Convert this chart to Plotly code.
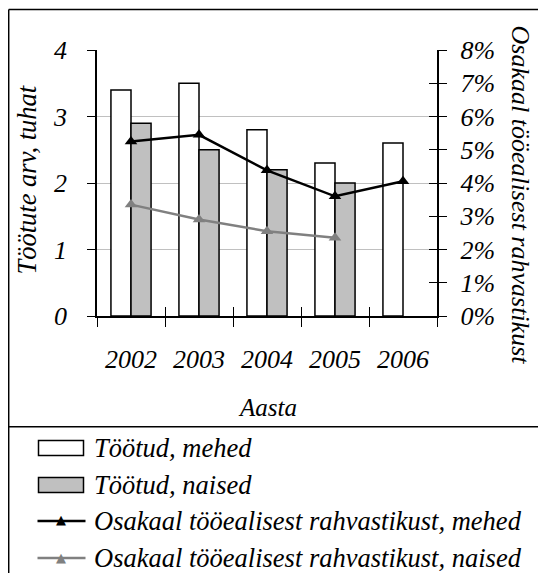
import plotly.graph_objects as go

years = ["2002", "2003", "2004", "2005", "2006"]
men_unemployed = [3.4, 3.5, 2.8, 2.3, 2.6]
women_unemployed = [2.9, 2.5, 2.2, 2.0, None]
men_share = [0.0525, 0.0545, 0.0438, 0.0360, 0.0405]
women_share = [0.0335, 0.0290, 0.0255, 0.0235]
left_ticks = [0, 1, 2, 3, 4]
right_ticks = [0, 0.01, 0.02, 0.03, 0.04, 0.05, 0.06, 0.07, 0.08]
legend_labels = ["Töötud, mehed", "Töötud, naised",
                 "Osakaal tööealisest rahvastikust, mehed",
                 "Osakaal tööealisest rahvastikust, naised"]

SERIF = "Liberation Serif"


def f(size):
    return dict(family=SERIF, size=size, style="italic", color="black")


# the page body has an 8px margin, so the figure starts at screen (8, 8)
OFF = 8
W, H = 546, 573
# plot area in screen pixels
SL, SR, ST, SB = 97, 437, 50, 316
L, R, T, B = SL - OFF, SR - OFF, ST - OFF, SB - OFF


def px(x):
    return (x - SL) / (SR - SL)


def py(y):
    return (SB - y) / (SB - ST)


fig = go.Figure()
fig.add_trace(go.Bar(x=years, y=men_unemployed, name=legend_labels[0],
                     marker=dict(color="white", line=dict(color="black", width=1.5))))
fig.add_trace(go.Bar(x=years, y=women_unemployed, name=legend_labels[1],
                     marker=dict(color="#c0c0c0", line=dict(color="black", width=1.5))))
fig.add_trace(go.Scatter(x=years, y=men_share, yaxis="y2", mode="lines+markers",
                         name=legend_labels[2],
                         line=dict(color="black", width=2.5),
                         marker=dict(symbol="triangle-up", size=11, color="black")))
fig.add_trace(go.Scatter(x=years[:4], y=women_share, yaxis="y2", mode="lines+markers",
                         name=legend_labels[3],
                         line=dict(color="#808080", width=2.5),
                         marker=dict(symbol="triangle-up", size=11, color="#808080")))
# empty helper trace so the overlay axes (inner halves of crossing ticks) get drawn
fig.add_trace(go.Scatter(x=[], y=[], xaxis="x2", yaxis="y3", showlegend=False, hoverinfo="skip"))

shapes = [
    dict(type="line", x0=px(8.7), x1=px(600), y0=py(9.5), y1=py(9.5)),
    dict(type="line", x0=px(8.7), x1=px(8.7), y0=py(9.5), y1=py(600)),
    dict(type="line", x0=px(8.7), x1=px(600), y0=py(426.7), y1=py(426.7)),
    # legend symbols
    dict(type="rect", x0=px(38.5), x1=px(83.5), y0=py(440.5), y1=py(455.5), fillcolor="white"),
    dict(type="rect", x0=px(38.5), x1=px(83.5), y0=py(477.5), y1=py(492.5), fillcolor="#c0c0c0"),
    dict(type="line", x0=px(37.5), x1=px(85.5), y0=py(521), y1=py(521), line=dict(color="black", width=2.5)),
    dict(type="line", x0=px(37.5), x1=px(85.5), y0=py(558), y1=py(558), line=dict(color="#808080", width=2.5)),
]
for s in shapes:
    s.update(xref="paper", yref="paper", layer="above")
    s.setdefault("line", dict(color="black", width=1.5))

annotations = [
    dict(text="Töötute arv, tuhat", textangle=-90, x=px(26.5), y=py(180), font=f(26.5)),
    dict(text="Osakaal tööealisest rahvastikust", textangle=90, x=px(520.5), y=py(195), font=f(26)),
    dict(text="Aasta", x=px(267), y=py(408), font=f(25)),
    dict(text="▲", x=px(61), y=py(520), font=dict(size=13, family="DejaVu Sans", color="black")),
    dict(text="▲", x=px(61), y=py(557), font=dict(size=13, family="DejaVu Sans", color="#808080")),
]
for lab, yy in zip(legend_labels, [448, 484.5, 521, 557.5]):
    annotations.append(dict(text=lab, x=px(92), y=py(yy), xanchor="left", font=f(26.5)))
for a in annotations:
    a.update(xref="paper", yref="paper", showarrow=False)
    a.setdefault("xanchor", "center")
    a.setdefault("yanchor", "middle")

fig.update_layout(
    width=W, height=H,
    margin=dict(l=L, r=W - R, t=T, b=H - B),
    paper_bgcolor="white", plot_bgcolor="white",
    font=dict(color="black"),
    showlegend=False,
    barmode="group", bargap=0.41, bargroupgap=0,
    xaxis=dict(type="category", categoryorder="array", categoryarray=years,
               tickson="boundaries", ticks="outside", ticklen=9, tickcolor="black",
               tickwidth=1, showline=True, linecolor="black", linewidth=1.5,
               showgrid=False, tickfont=f(26), ticklabelstandoff=19,
               automargin=False),
    xaxis2=dict(type="category", categoryorder="array", categoryarray=years,
                overlaying="x", anchor="y", matches="x", tickson="boundaries",
                ticks="inside", ticklen=9, tickcolor="black", tickwidth=1,
                showticklabels=False, showgrid=False, showline=False, zeroline=False,
                automargin=False),
    yaxis=dict(range=[0, 4], tickvals=left_ticks, ticks="outside", ticklen=8,
               tickcolor="black", showline=True, linecolor="black", linewidth=1.5,
               showgrid=True, gridcolor="#c0c0c0", gridwidth=1, zeroline=False,
               tickfont=f(26), ticklabelstandoff=15, automargin=False),
    yaxis2=dict(range=[0, 0.08], tickvals=right_ticks, tickformat=".0%",
                overlaying="y", side="right", anchor="x", ticks="outside", ticklen=8.5,
                tickcolor="black", showline=True, linecolor="black", linewidth=1.5,
                showgrid=False, zeroline=False, tickfont=f(26),
                ticklabelstandoff=8, automargin=False),
    yaxis3=dict(range=[0, 0.08], tickvals=right_ticks, overlaying="y", side="right",
                anchor="x", ticks="inside", ticklen=8.5, tickcolor="black",
                showticklabels=False, showgrid=False, showline=False, zeroline=False,
                automargin=False),
    annotations=annotations,
    shapes=shapes,
)

fig.write_html("out.html")
